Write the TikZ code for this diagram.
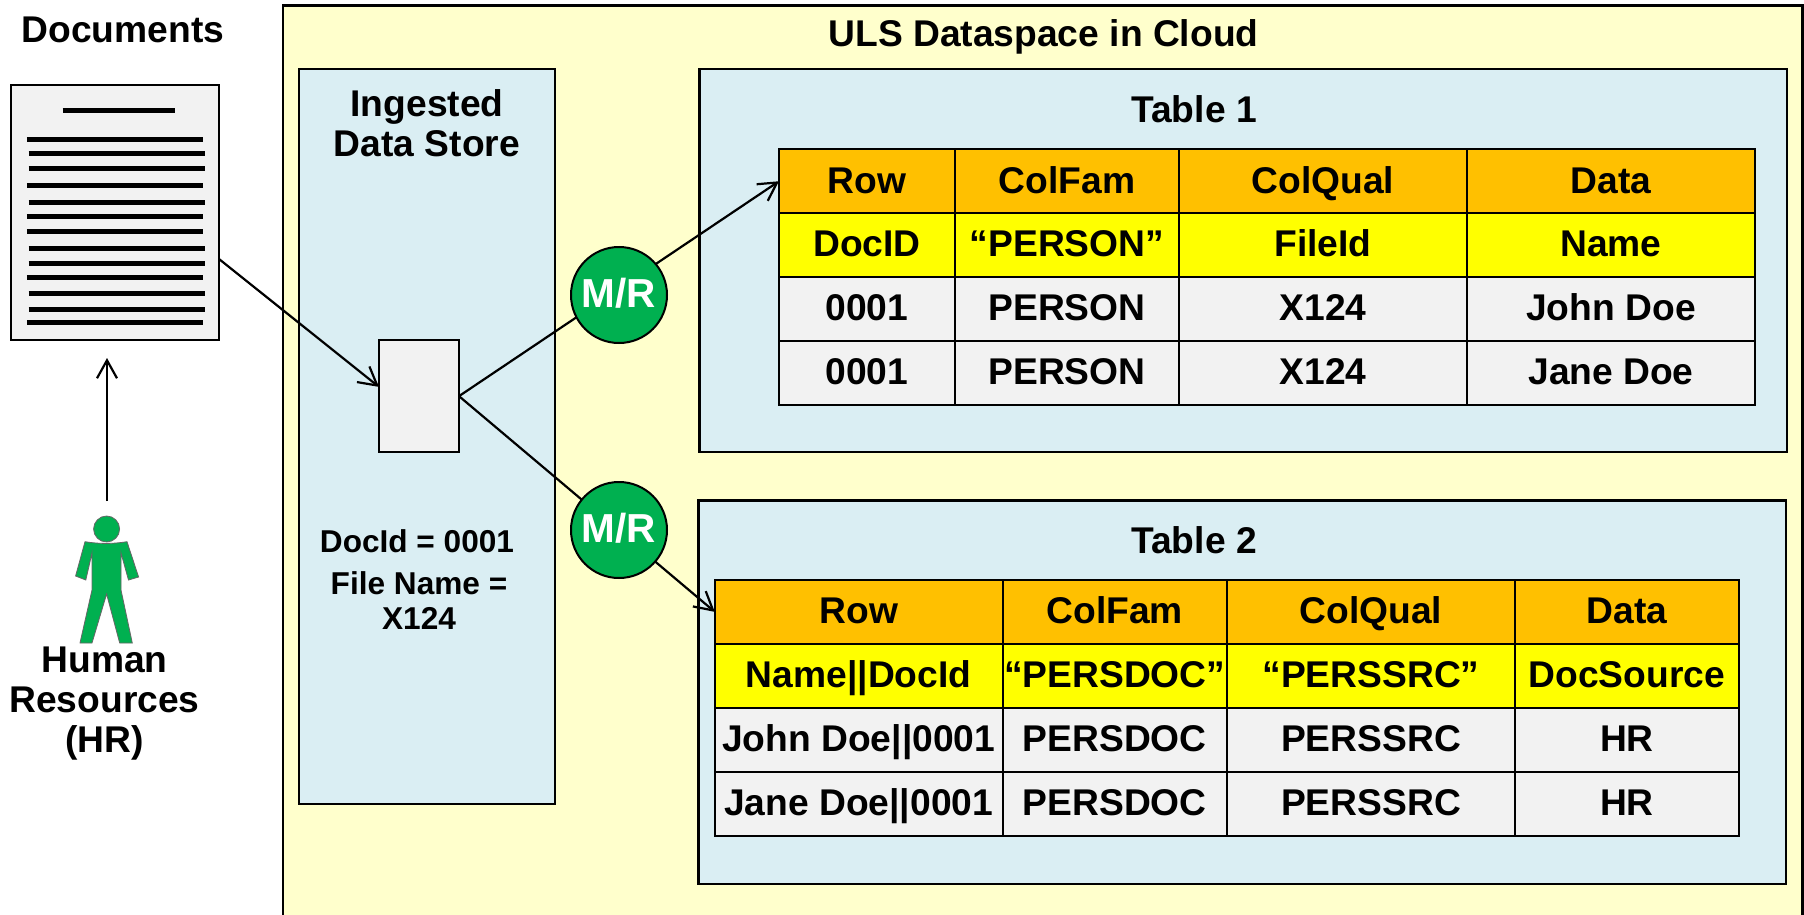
\documentclass[tikz,border=0pt]{standalone}
\usepackage{fontspec}
\setmainfont{Liberation Sans}[BoldFont={Liberation Sans Bold}]
\usetikzlibrary{arrows.meta}
\definecolor{framefill}{HTML}{FFFFCC}
\definecolor{panelfill}{HTML}{DAEEF3}
\definecolor{hdrfill}{HTML}{FFC000}
\definecolor{keyfill}{HTML}{FFFF00}
\definecolor{cellfill}{HTML}{F2F2F2}
\definecolor{mrfill}{HTML}{00B050}
\newcommand\bigfont{\fontsize{37.2}{40}\selectfont\bfseries}
\newcommand\midfont{\fontsize{31.6}{35}\selectfont\bfseries}
\newcommand\mrfont{\fontsize{40.5}{44}\selectfont\bfseries}
% \cellat{name}{x1}{y1}{x2}{y2}{style}{text}
\newcommand\cellat[7]{%
  \pgfmathsetmacro\cw{#4-#2}\pgfmathsetmacro\ch{#5-#3}%
  \pgfmathsetmacro\cx{(#2+#4)/2}\pgfmathsetmacro\cy{(#3+#5)/2}%
  \node[#6,minimum width=\cw pt,minimum height=\ch pt] (#1) at (\cx,\cy) {#7};}
\tikzset{
  panel/.style={draw=black,line width=2.4pt,fill=panelfill,inner sep=0pt,outer sep=0pt},
  tcell/.style={draw=black,line width=2pt,inner sep=0pt,outer sep=0pt,font=\bigfont,text height=26.6pt,text depth=2.8pt},
  hdr/.style={tcell,fill=hdrfill},
  key/.style={tcell,fill=keyfill},
  val/.style={tcell,fill=cellfill},
  docbox/.style={draw=black,line width=2pt,fill=cellfill,inner sep=0pt,outer sep=0pt},
  bigtext/.style={inner sep=0pt,font=\bigfont,align=center},
  midtext/.style={inner sep=0pt,font=\midfont,align=center},
  mrnode/.style={circle,draw=black,line width=2pt,fill=mrfill,text=white,inner sep=0pt,minimum size=96pt,font=\mrfont,text depth=3.6pt},
  link/.style={draw=black,line width=2.2pt},
  linkarrow/.style={link,-{Straight Barb[length=18pt,width=20pt,line width=2.2pt]}},
  docline/.style={line width=5pt,draw=black},
  personfill/.style={fill=mrfill,draw=black!60,line width=0.8pt}
}
\begin{document}
\begin{tikzpicture}[x=1pt,y=-1pt]
\useasboundingbox (0,0) rectangle (1804,915);
\fill[white] (0,0) rectangle (1804,915);
% outer frame
\begin{scope}
\clip (0,0) rectangle (1804,915);
\draw[line width=2.4pt,fill=framefill] (283,5.5) rectangle (1802.5,940);
\end{scope}
\node[bigtext] (frametitle) at (1043.5,36.5) {ULS Dataspace in Cloud};
\node[bigtext] (doctitle) at (123,29.5) {Documents};
% document
\cellat{doc}{10.7}{85}{219}{340.2}{docbox}{}
\draw[docline] (62.5,111) -- (174.5,111);
\foreach \y in {140,185.7,216,231.3,277,322.7} \draw[docline] (26.8,\y) -- (203,\y);
\foreach \y in {153.7,168.7,202.3,248,263.3,293.7,309} \draw[docline] (28.6,\y) -- (204.5,\y);
% ingested store
\cellat{store}{299}{69}{555}{804}{panel}{}
\node[bigtext] (storetitle) at (427,123) {Ingested\\Data Store};
\cellat{item}{379}{340}{459}{452.3}{docbox}{}
\node[midtext] (docid) at (417,541) {DocId = 0001};
\node[midtext] (fname) at (419,600.5) {File Name =\\X124};
% table 1
\cellat{panelA}{699.5}{69}{1787}{452}{panel}{}
\node[bigtext] (titleA) at (1194,109) {Table 1};
\cellat{aa}{779}{149.5}{955}{213}{hdr}{Row}
\cellat{ab}{955}{149.5}{1179}{213}{hdr}{ColFam}
\cellat{ac}{1179}{149.5}{1467}{213}{hdr}{ColQual}
\cellat{ad}{1467}{149.5}{1755}{213}{hdr}{Data}
\cellat{ba}{779}{213}{955}{277}{key}{DocID}
\cellat{bb}{955}{213}{1179}{277}{key}{“PERSON”}
\cellat{bc}{1179}{213}{1467}{277}{key}{FileId}
\cellat{bd}{1467}{213}{1755}{277}{key}{Name}
\cellat{ca}{779}{277}{955}{340.5}{val}{0001}
\cellat{cb}{955}{277}{1179}{340.5}{val}{PERSON}
\cellat{cc}{1179}{277}{1467}{340.5}{val}{X124}
\cellat{cd}{1467}{277}{1755}{340.5}{val}{John Doe}
\cellat{da}{779}{340.5}{955}{405}{val}{0001}
\cellat{db}{955}{340.5}{1179}{405}{val}{PERSON}
\cellat{dc}{1179}{340.5}{1467}{405}{val}{X124}
\cellat{dd}{1467}{340.5}{1755}{405}{val}{Jane Doe}
% table 2
\cellat{panelB}{698.5}{500.5}{1786}{884}{panel}{}
\node[bigtext] (titleB) at (1194,540) {Table 2};
\cellat{ea}{714.8}{580}{1002.6}{643.7}{hdr}{Row}
\cellat{eb}{1002.6}{580}{1227}{643.7}{hdr}{ColFam}
\cellat{ec}{1227}{580}{1515}{643.7}{hdr}{ColQual}
\cellat{ed}{1515}{580}{1738.7}{643.7}{hdr}{Data}
\cellat{fa}{714.8}{643.7}{1002.6}{708}{key}{Name||DocId}
\cellat{fb}{1002.6}{643.7}{1227}{708}{key}{“PERSDOC”}
\cellat{fc}{1227}{643.7}{1515}{708}{key}{“PERSSRC”}
\cellat{fd}{1515}{643.7}{1738.7}{708}{key}{DocSource}
\cellat{ga}{714.8}{708}{1002.6}{772}{val}{John Doe||0001}
\cellat{gb}{1002.6}{708}{1227}{772}{val}{PERSDOC}
\cellat{gc}{1227}{708}{1515}{772}{val}{PERSSRC}
\cellat{gd}{1515}{708}{1738.7}{772}{val}{HR}
\cellat{ha}{714.8}{772}{1002.6}{836}{val}{Jane Doe||0001}
\cellat{hb}{1002.6}{772}{1227}{836}{val}{PERSDOC}
\cellat{hc}{1227}{772}{1515}{836}{val}{PERSSRC}
\cellat{hd}{1515}{772}{1738.7}{836}{val}{HR}
% connectors
\draw[linkarrow] (doc.-24.8) -- (item.167.3);
\draw[linkarrow] (item.east) -- (aa.west);
\draw[linkarrow] (item.east) -- (ea.west);
\node[mrnode] (mrA) at (619,295) {M/R};
\node[mrnode] (mrB) at (619,530) {M/R};
% person
\coordinate (hrfrom) at (107,501);
\coordinate (hrto) at (107,358);
\draw[linkarrow] (hrfrom) -- (hrto);
\node[circle,personfill,minimum size=26pt,inner sep=0pt] (head) at (106.6,529) {};
\draw[personfill] (85,541.7) -- (75.6,576) -- (85.8,580) -- (92,553) -- (92,590) -- (80,643) -- (92,643)
  -- (106.6,594) -- (119.7,643) -- (132.3,643) -- (121,590) -- (121,553) -- (128.5,580) -- (138.6,577) -- (127,541.7)
  .. controls (113,544) and (99,544) .. (85,541.7) -- cycle;
\node[bigtext] (hr) at (104.5,703.5) {Human\\Resources\\(HR)};
\end{tikzpicture}
\end{document}
